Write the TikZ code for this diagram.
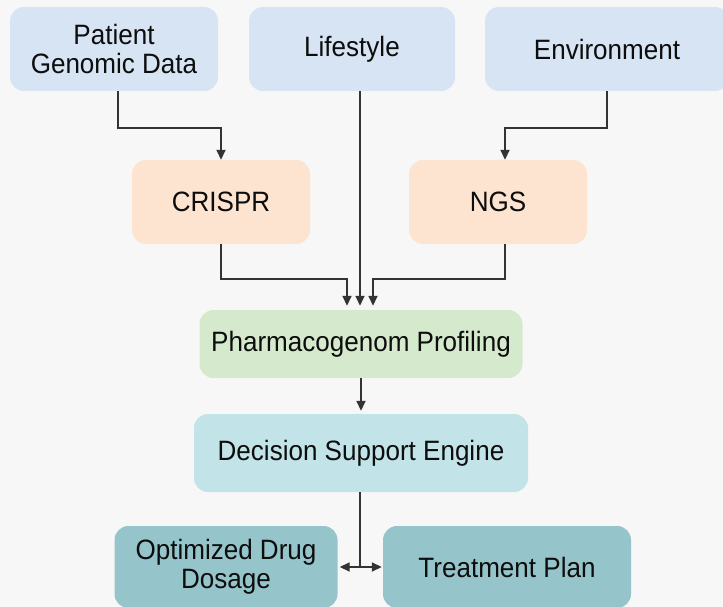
\documentclass[tikz,border=0pt]{standalone}
\usepackage{fontspec}
\setmainfont{Liberation Sans}[FakeStretch=0.93]
\usetikzlibrary{arrows.meta}
\definecolor{bgc}{HTML}{F7F7F7}
\definecolor{inputc}{HTML}{D6E4F3}
\definecolor{toolc}{HTML}{FCE4D0}
\definecolor{profc}{HTML}{D5EACD}
\definecolor{engc}{HTML}{C2E4E9}
\definecolor{outc}{HTML}{95C5CA}
\definecolor{linec}{HTML}{333333}
\tikzset{
  box/.style={rounded corners=14pt, align=center, text=black!95,
    font=\fontsize{28}{29}\selectfont, inner sep=0pt},
  inbox/.style={box, fill=inputc, minimum height=84pt},
  toolbox/.style={box, fill=toolc, minimum width=178pt, minimum height=84pt},
  conn/.style={draw=linec, line width=1.7pt},
  tip/.tip={Triangle[length=10pt,width=9pt]},
  arr/.style={conn, -tip},
  dbl/.style={conn, tip-tip}
}
\begin{document}
\begin{tikzpicture}[x=1pt,y=-1pt]
  \fill[bgc] (0,0) rectangle (723,607);
  \useasboundingbox (0,0) rectangle (723,607);

  % input sources
  \node[inbox, minimum width=208pt] (pat)  at (114,49) {Patient\\Genomic Data};
  \node[inbox, minimum width=206pt] (life) at (352,49) {Lifestyle};
  \node[inbox, minimum width=244pt] (env)  at (607,49) {Environment};

  % sequencing and editing tools
  \node[toolbox] (crispr) at (221,202) {CRISPR};
  \node[toolbox] (ngs)    at (498,202) {NGS};

  % profiling and decision stages
  \node[box, fill=profc, minimum width=323pt, minimum height=68pt] (pharm) at (361,344) {Pharmacogenom Profiling};
  \node[box, fill=engc, minimum width=334pt, minimum height=78pt] (dec) at (361,453) {Decision Support Engine};

  % outputs
  \node[box, fill=outc, minimum width=223pt, minimum height=82pt] (opt)   at (226,567) {Optimized Drug\\Dosage};
  \node[box, fill=outc, minimum width=248pt, minimum height=82pt] (treat) at (507,567) {Treatment Plan};

  % connectors
  \draw[arr] ([xshift=4pt]pat.south) -- ++(0,37) -| (crispr.north);
  \draw[arr] (env.south) -- ++(0,37) -| ([xshift=7pt]ngs.north);
  \draw[arr] ([xshift=-1pt]pharm.north |- life.south) -- ([xshift=-1pt,yshift=4pt]pharm.north);
  \draw[arr] (crispr.south) -- ++(0,35) -| ([xshift=-14pt,yshift=4pt]pharm.north);
  \draw[arr] ([xshift=7pt]ngs.south) -- ++(0,35) -| ([xshift=12pt,yshift=4pt]pharm.north);
  \draw[arr] (pharm.south) -- ([yshift=3pt]pharm.south |- dec.north);
  \coordinate (split) at (dec.south |- opt.east);
  \draw[conn] ([xshift=-1pt]dec.south) -- ([xshift=-1pt]split);
  \draw[dbl] ([xshift=2pt]opt.east) -- ([xshift=-1pt]treat.west);
\end{tikzpicture}
\end{document}
